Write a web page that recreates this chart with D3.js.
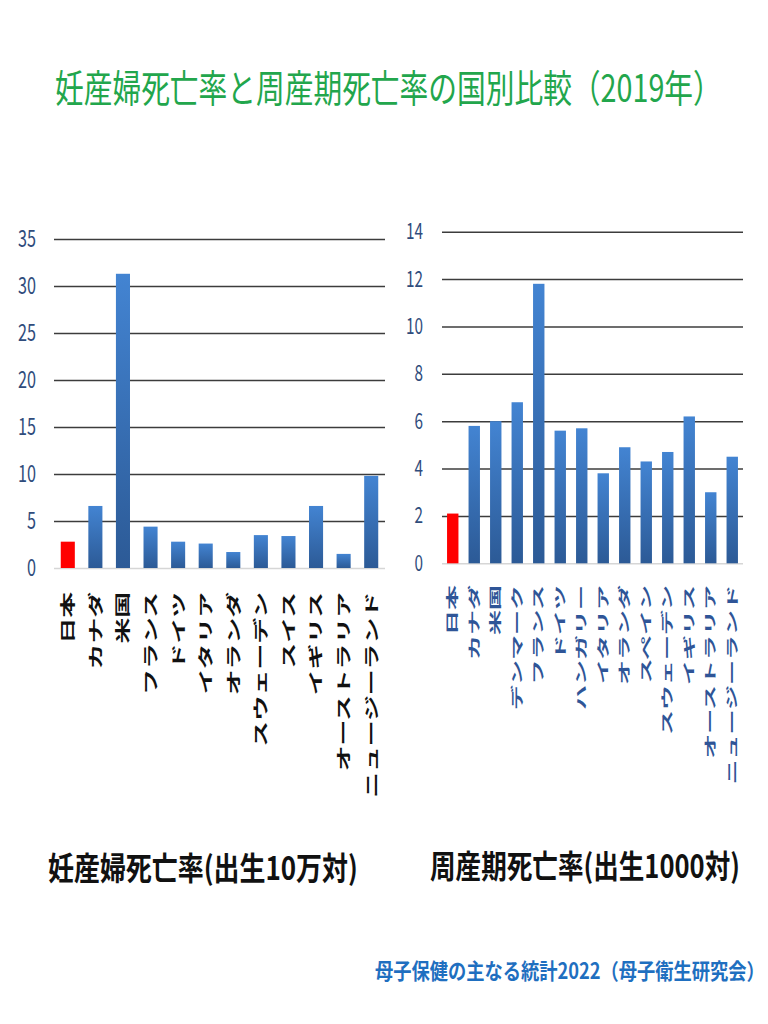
<!DOCTYPE html>
<html>
<head>
    <meta charset="utf-8">
    <script src="https://d3js.org/d3.v7.min.js"></script>
    <style>
        body { margin: 0; background: #fff; }
        text { font-family: "Noto Sans CJK JP", "Noto Sans", sans-serif; }
    </style>
</head>
<body>
    <script>
        // 妊産婦死亡率（出生10万対）
        const matCountries = ["日本", "カナダ", "米国", "フランス", "ドイツ", "イタリア", "オランダ",
            "スウェーデン", "スイス", "イギリス", "オーストラリア", "ニュージーランド"];
        const matValues = [2.8, 6.6, 31.3, 4.4, 2.8, 2.6, 1.7, 3.5, 3.4, 6.6, 1.5, 9.8];
        const matTicks = [0, 5, 10, 15, 20, 25, 30, 35];

        // 周産期死亡率（出生1000対）
        const periCountries = ["日本", "カナダ", "米国", "デンマーク", "フランス", "ドイツ", "ハンガリー",
            "イタリア", "オランダ", "スペイン", "スウェーデン", "イギリス", "オーストラリア", "ニュージーランド"];
        const periValues = [2.1, 5.8, 6.0, 6.8, 11.8, 5.6, 5.7, 3.8, 4.9, 4.3, 4.7, 6.2, 3.0, 4.5];
        const periTicks = [0, 2, 4, 6, 8, 10, 12, 14];

        const width = 768, height = 1024;

        const svg = d3.select("body").append("svg")
            .attr("width", width)
            .attr("height", height);

        // 棒のグラデーション
        const grad = svg.append("defs").append("linearGradient")
            .attr("id", "barGrad")
            .attr("x1", 0).attr("y1", 0).attr("x2", 0).attr("y2", 1);
        grad.append("stop").attr("offset", "0%").attr("stop-color", "#4384d2");
        grad.append("stop").attr("offset", "100%").attr("stop-color", "#2c5a96");

        // 横幅を指定して文字を詰める（縦はそのまま）
        function fitText(sel, x, y, w) {
            const natural = sel.node().getComputedTextLength();
            sel.attr("transform", "translate(" + x + "," + y + ") scale(" + (w / natural) + ",1)");
            return sel;
        }

        // タイトル
        fitText(svg.append("text")
            .attr("font-size", 38)
            .attr("fill", "#22a64c")
            .text("妊産婦死亡率と周産期死亡率の国別比較（2019年）"), 55, 102, 667);

        function drawPanel(names, values, ticks, opt) {
            const x = d3.scaleBand()
                .domain(names)
                .range([opt.left, opt.right])
                .paddingInner(opt.pad)
                .paddingOuter(opt.pad / 2);

            const y = d3.scaleLinear()
                .domain([0, d3.max(ticks)])
                .range([opt.bottom, opt.top]);

            const g = svg.append("g");

            // 目盛線
            g.append("g")
                .attr("transform", "translate(" + opt.left + ",0)")
                .call(d3.axisLeft(y).tickValues(ticks)
                    .tickSize(-(opt.right - opt.left))
                    .tickPadding(opt.tickPad)
                    .tickFormat(d3.format("d")))
                .call(a => a.select(".domain").remove())
                .call(a => a.selectAll(".tick line")
                    .attr("stroke", d => d === 0 ? "#d6d6d6" : "#3c3c3c")
                    .attr("stroke-width", 1.5))
                .call(a => a.selectAll(".tick text")
                    .attr("font-family", "'Liberation Sans', 'Noto Sans', sans-serif")
                    .attr("font-size", opt.tickFont)
                    .attr("fill", "#2f4c7c")
                    .attr("textLength", d => String(d).length * opt.digitW)
                    .attr("lengthAdjust", "spacingAndGlyphs"));

            // 棒
            g.selectAll(".bar")
                .data(values)
                .join("rect")
                .attr("class", "bar")
                .attr("x", (d, i) => x(names[i]))
                .attr("width", x.bandwidth())
                .attr("y", d => y(d))
                .attr("height", d => y(0) - y(d))
                .attr("fill", (d, i) => i === 0 ? "#ff0000" : "url(#barGrad)");

            // 国名（回転して下から上へ）
            g.selectAll(".cat")
                .data(names)
                .join("text")
                .attr("class", "cat")
                .attr("transform", d => "translate(" + (x(d) + x.bandwidth() / 2) + "," + opt.labelTop + ") rotate(-90) scale(" + opt.labelStretch + ",1)")
                .attr("text-anchor", "end")
                .attr("dy", "0.36em")
                .attr("font-size", opt.labelFont)
                .attr("font-weight", "bold")
                .attr("fill", opt.labelColor)
                .text(d => d);

            // 軸タイトル
            fitText(svg.append("text")
                .attr("font-size", 32)
                .attr("font-weight", "bold")
                .attr("fill", "#111")
                .text(opt.title), opt.titleX, opt.titleY, opt.titleW);
        }

        drawPanel(matCountries, matValues, matTicks, {
            left: 54, right: 385, top: 239, bottom: 568,
            pad: 0.49, tickPad: 18, tickFont: 23, digitW: 9,
            labelTop: 592, labelFont: 15, labelStretch: 1.72, labelColor: "#111",
            title: "妊産婦死亡率(出生10万対)", titleX: 48, titleY: 880, titleW: 310
        });

        drawPanel(periCountries, periValues, periTicks, {
            left: 442, right: 743, top: 231.7, bottom: 563.3,
            pad: 0.47, tickPad: 19, tickFont: 22, digitW: 8.5,
            labelTop: 585, labelFont: 12.5, labelStretch: 2.0, labelColor: "#2f5597",
            title: "周産期死亡率(出生1000対)", titleX: 430, titleY: 878, titleW: 310
        });

        // 出典
        fitText(svg.append("text")
            .attr("font-size", 22)
            .attr("font-weight", "bold")
            .attr("fill", "#1f6fc0")
            .text("母子保健の主なる統計2022（母子衛生研究会）"), 375, 979, 390);
    </script>
</body>
</html>
